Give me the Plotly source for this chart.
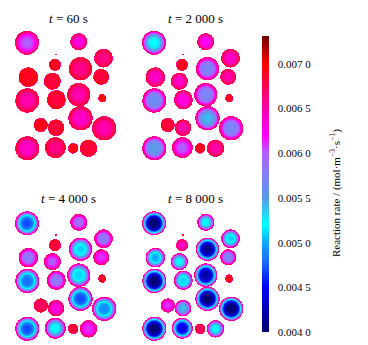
import numpy as np
import plotly.graph_objects as go

# ---------------- data ----------------
times = ["60", "2 000", "4 000", "8 000"]

# particle centres / radii (same particles in every snapshot)
part_x = [27.0, 78.3, 56.3, 103.0, 55.0, 80.0, 28.3, 52.3, 100.7, 27.3, 56.3,
          78.3, 101.7, 40.7, 56.0, 80.0, 103.7, 27.3, 55.3, 72.7, 88.0]
part_y = [42.8, 41.8, 54.5, 58.2, 64.8, 68.8, 77.2, 81.2, 76.8, 100.2, 99.5,
          94.5, 97.8, 124.5, 127.2, 117.8, 127.8, 147.8, 147.2, 147.8, 147.8]
part_r = [12.0, 8.5, 1.0, 9.3, 6.1, 11.7, 9.8, 8.5, 8.0, 12.0, 9.4,
          11.6, 4.0, 7.1, 8.3, 12.2, 12.2, 12.1, 10.5, 5.3, 8.7]

# reaction rate at particle centre for each time
centre_t60 = [0.0060, 0.0063, 0.0066, 0.0066, 0.0069, 0.0066, 0.0069, 0.0068, 0.0068, 0.0065, 0.0068,
              0.0065, 0.0070, 0.0069, 0.0068, 0.0064, 0.0065, 0.0064, 0.0066, 0.0069, 0.0068]
centre_t2000 = [0.0052, 0.0062, 0.0066, 0.0064, 0.0069, 0.0057, 0.0064, 0.0064, 0.0065, 0.0056, 0.0063,
                0.0057, 0.0069, 0.0068, 0.0065, 0.0054, 0.0057, 0.0055, 0.0060, 0.0069, 0.0065]
centre_t4000 = [0.0047, 0.0059, 0.0066, 0.0058, 0.0068, 0.0051, 0.0058, 0.0060, 0.0061, 0.0048, 0.0058,
                0.0051, 0.0069, 0.0067, 0.0063, 0.0047, 0.0049, 0.0047, 0.0052, 0.0068, 0.0061]
centre_t8000 = [0.0040, 0.0052, 0.0066, 0.0051, 0.0064, 0.0041, 0.0050, 0.0052, 0.0057, 0.0040, 0.0051,
                0.0042, 0.0069, 0.0061, 0.0054, 0.0040, 0.0040, 0.0040, 0.0044, 0.0067, 0.0052]
centres = [centre_t60, centre_t2000, centre_t4000, centre_t8000]
surface_rate = 0.0070
outline_rate = 0.0066

# colour map (value, colour)
cmap_vals = [0.0040, 0.0045, 0.0048, 0.0050, 0.0052, 0.0055, 0.0058, 0.0060,
             0.0062, 0.0065, 0.0068, 0.0070, 0.007313]
cmap_cols = ["#000070", "#0000ff", "#1870ff", "#10a8ff", "#00ffff", "#5a9ae8", "#8a7aff", "#b060ff",
             "#ff00ff", "#ff00b0", "#ff0040", "#ff0000", "#700000"]
tick_vals = [0.0040, 0.0045, 0.0050, 0.0055, 0.0060, 0.0065, 0.0070]
tick_text = ["0.004 0", "0.004 5", "0.005 0", "0.005 5", "0.006 0", "0.006 5", "0.007 0"]

# ---------------- figure ----------------
W, H = 368, 345
cmin, cmax = cmap_vals[0], cmap_vals[-1]
colorscale = [[(v - cmin) / (cmax - cmin), c] for v, c in zip(cmap_vals, cmap_cols)]

gx = np.arange(10, 122.01, 0.5)
gy = np.arange(26, 164.01, 0.5)
GX, GY = np.meshgrid(gx, gy)

fig = go.Figure()
offsets = [(0, 0), (127, 0), (0, 180.5), (127, 180.5)]
XR = [10, 122]
YR = [164, 26]
serif = "Liberation Serif, Times New Roman, serif"

for k, (ox, oy) in enumerate(offsets):
    z = np.full(GX.shape, np.nan)
    for x0, y0, r, c in zip(part_x, part_y, part_r, centres[k]):
        d = np.hypot(GX - x0, GY - y0)
        m = d <= r
        s = d[m] / r
        z[m] = c + (surface_rate - c) * s ** 3.5
        if r > 2:
            z[(d <= r) & (d > r - 0.6)] = outline_rate
    z = np.round(z, 7)
    n = "" if k == 0 else str(k + 1)
    fig.add_trace(go.Heatmap(x=gx, y=gy, z=z, coloraxis="coloraxis", hoverinfo="skip",
                             xaxis="x" + n, yaxis="y" + n, zsmooth=False))
    fig.layout["xaxis" + n] = dict(range=XR, visible=False,
                                   domain=[(XR[0] + ox) / W, (XR[1] + ox) / W],
                                   anchor="y" + n)
    fig.layout["yaxis" + n] = dict(range=YR, visible=False,
                                   domain=[1 - (YR[0] + oy) / H, 1 - (YR[1] + oy) / H],
                                   anchor="x" + n)
    fig.add_annotation(text="<i>t</i> = %s s" % times[k], xref="paper", yref="paper",
                       x=(68 + ox) / W, y=1 - (18 + oy) / H, showarrow=False,
                       xanchor="center", yanchor="middle",
                       font=dict(family=serif, size=13, color="black"))

fig.add_annotation(text="Reaction rate / (mol·m<sup>−3</sup>·s<sup>−1</sup>)",
                   xref="paper", yref="paper", x=336 / W, y=1 - 193 / H, textangle=-90,
                   showarrow=False, xanchor="center", yanchor="middle",
                   font=dict(family=serif, size=11, color="black"))

fig.update_layout(
    width=W, height=H, margin=dict(l=0, r=0, t=0, b=0),
    paper_bgcolor="white", plot_bgcolor="white", showlegend=False,
    coloraxis=dict(
        colorscale=colorscale, cmin=cmin, cmax=cmax,
        colorbar=dict(
            x=262 / W, xanchor="left", xref="paper",
            y=1 - 184 / H, yanchor="middle", len=296 / H, lenmode="fraction",
            thickness=7, xpad=0, ypad=0, outlinewidth=0,
            tickvals=tick_vals, ticktext=tick_text,
            ticks="outside", ticklen=7, tickcolor="rgba(0,0,0,0)",
            tickfont=dict(family=serif, size=11, color="black"),
        ),
    ),
)

fig.write_html("out.html")
